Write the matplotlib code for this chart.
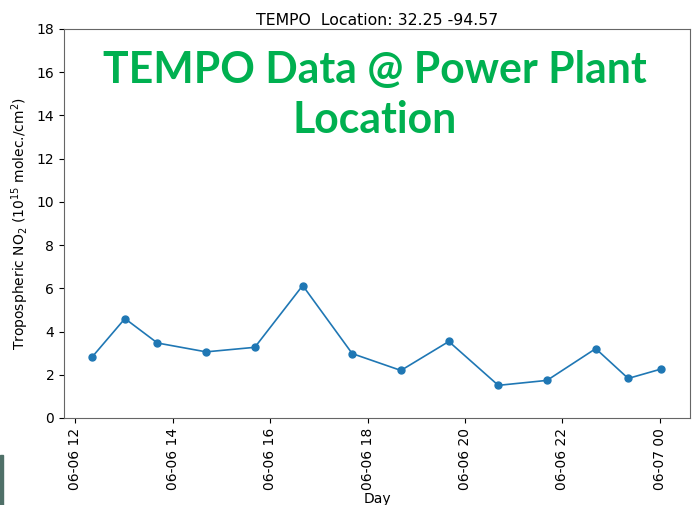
import pandas as pd
import matplotlib.pyplot as plt
import matplotlib.dates as mdates
from matplotlib.patches import Rectangle

# scan times (UTC) and tropospheric NO2 (1e15 molec/cm2)
times = ["2024-06-06 12:21", "2024-06-06 13:01", "2024-06-06 13:41", "2024-06-06 14:41",
         "2024-06-06 15:41", "2024-06-06 16:40", "2024-06-06 17:41", "2024-06-06 18:41",
         "2024-06-06 19:40", "2024-06-06 20:41", "2024-06-06 21:41", "2024-06-06 22:41",
         "2024-06-06 23:21", "2024-06-07 00:02"]
no2 = [2.84, 4.60, 3.47, 3.06, 3.27, 6.13, 2.98, 2.20, 3.54, 1.51, 1.74, 3.21, 1.83, 2.27]

lat, lon = 32.25, -94.57

df = pd.DataFrame({"time": pd.to_datetime(times), "no2": no2})

fig = plt.figure(figsize=(6.92, 5.05), dpi=100)
ax = fig.add_axes([0.0925, 0.1723, 0.9045, 0.7703])

ax.plot(df["time"], df["no2"], marker="o", markersize=5, color="#1f77b4", linewidth=1.2)
ax.set_ylim(0, 18)
ax.xaxis.set_major_locator(mdates.HourLocator(byhour=range(0, 24, 2)))
ax.xaxis.set_major_formatter(mdates.DateFormatter("%m-%d %H"))
plt.setp(ax.get_xticklabels(), rotation=90)

ax.set_title(f"TEMPO  Location: {lat} {lon}", fontsize=11.3, pad=3)
ax.set_xlabel("Day", fontsize=10, labelpad=1.5)
ax.set_ylabel("Tropospheric NO$_2$ (10$^{15}$ molec./cm$^2$)", fontsize=10)

for s in ax.spines.values():
    s.set_color("#666666")

# slide overlay text
for txt, yy in [("TEMPO Data @ Power Plant", 0.862), ("Location", 0.733)]:
    ax.text(0.497, yy, txt, transform=ax.transAxes, ha="center", va="baseline",
            fontsize=30.8, fontweight="bold", color="#00B050", family="Lato")

fig.patches.append(Rectangle((0, 0), 0.004, 0.10, transform=fig.transFigure,
                             color="#4f7068", zorder=5))

fig.savefig("out.png", dpi=100)
